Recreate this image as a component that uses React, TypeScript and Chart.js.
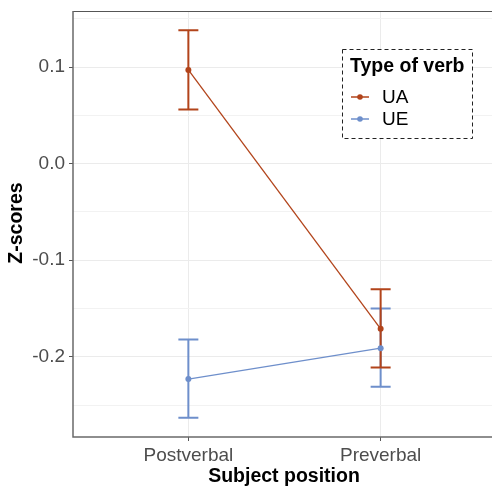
import React, { useEffect, useRef } from "react";
import { Chart, registerables } from "chart.js";

Chart.register(...registerables);

const categories = ["Postverbal", "Preverbal"];
const uaMean = [0.097, -0.171];
const uaLower = [0.056, -0.211];
const uaUpper = [0.138, -0.13];
const ueMean = [-0.223, -0.191];
const ueLower = [-0.263, -0.231];
const ueUpper = [-0.182, -0.15];
const yTickValues = [-0.25, -0.2, -0.15, -0.1, -0.05, 0, 0.05, 0.1, 0.15];
const yMajorTicks = [-0.2, -0.1, 0, 0.1];
const seriesNames = ["UA", "UE"];
const legendTitle = "Type of verb";
const xTitle = "Subject position";
const yTitle = "Z-scores";

const UA_COLOR = "#B2441B";
const UE_COLOR = "#6E8FCB";
const FONT = "'Liberation Sans', Arial, sans-serif";

const isMajor = (v: number) => yMajorTicks.some((m) => Math.abs(m - v) < 1e-6);

export default function App() {
  const ref = useRef<HTMLCanvasElement>(null);
  useEffect(() => {
    const canvas = ref.current!;
    const bars = [
      { color: UE_COLOR, lo: ueLower, hi: ueUpper },
      { color: UA_COLOR, lo: uaLower, hi: uaUpper },
    ];
    const plugin = {
      id: "extras",
      beforeDatasetsDraw(chart: any) {
        const ctx = chart.ctx;
        const xs = chart.scales.x;
        const ys = chart.scales.y;
        ctx.save();
        bars.forEach((b) => {
          ctx.strokeStyle = b.color;
          ctx.lineWidth = 2;
          b.lo.forEach((lo: number, i: number) => {
            const x = xs.getPixelForValue(i + 1);
            const y1 = ys.getPixelForValue(lo);
            const y2 = ys.getPixelForValue(b.hi[i]);
            ctx.beginPath();
            ctx.moveTo(x, y1);
            ctx.lineTo(x, y2);
            ctx.moveTo(x - 10, y1);
            ctx.lineTo(x + 10, y1);
            ctx.moveTo(x - 10, y2);
            ctx.lineTo(x + 10, y2);
            ctx.stroke();
          });
        });
        ctx.restore();
      },
      afterDraw(chart: any) {
        const ctx = chart.ctx;
        const a = chart.chartArea;
        ctx.save();
        ctx.strokeStyle = "#555555";
        ctx.lineWidth = 1;
        ctx.beginPath();
        ctx.moveTo(a.left, a.top + 0.5);
        ctx.lineTo(a.right, a.top + 0.5);
        ctx.stroke();
        ctx.strokeStyle = "#6A6A6A";
        ctx.lineWidth = 1.5;
        ctx.beginPath();
        ctx.moveTo(a.left, a.top);
        ctx.lineTo(a.left, a.bottom);
        ctx.lineTo(a.right, a.bottom);
        ctx.stroke();
        // axis titles
        ctx.fillStyle = "#000000";
        ctx.font = `bold 19.5px ${FONT}`;
        ctx.textAlign = "center";
        ctx.textBaseline = "middle";
        ctx.fillText(xTitle, 284, 477);
        ctx.save();
        ctx.translate(17, 223);
        ctx.rotate(-Math.PI / 2);
        ctx.fillText(yTitle, 0, 0);
        ctx.restore();
        // legend
        ctx.fillStyle = "#ffffff";
        ctx.fillRect(342, 49, 130, 89);
        ctx.setLineDash([4, 3]);
        ctx.strokeStyle = "#222222";
        ctx.lineWidth = 1;
        ctx.strokeRect(342.5, 49.5, 130, 89);
        ctx.setLineDash([]);
        ctx.fillStyle = "#000000";
        ctx.font = `bold 19.5px ${FONT}`;
        ctx.textAlign = "left";
        ctx.fillText(legendTitle, 350, 67);
        const cols = [UA_COLOR, UE_COLOR];
        const ys = [97, 119];
        seriesNames.forEach((n, i) => {
          ctx.strokeStyle = cols[i];
          ctx.lineWidth = 1.5;
          ctx.beginPath();
          ctx.moveTo(351, ys[i]);
          ctx.lineTo(369, ys[i]);
          ctx.stroke();
          ctx.fillStyle = cols[i];
          ctx.beginPath();
          ctx.arc(360, ys[i], 2.8, 0, Math.PI * 2);
          ctx.fill();
          ctx.fillStyle = "#000000";
          ctx.font = `19px ${FONT}`;
          ctx.fillText(n, 382, ys[i] + 1);
        });
        ctx.restore();
      },
    };
    const mk = (vals: number[]) => vals.map((v, i) => ({ x: i + 1, y: v }));
    const chart = new Chart(canvas, {
      type: "line",
      data: {
        datasets: [
          {
            label: seriesNames[0],
            data: mk(uaMean),
            borderColor: UA_COLOR,
            backgroundColor: UA_COLOR,
            borderWidth: 1.3,
            pointRadius: 3,
            pointBorderWidth: 0,
          },
          {
            label: seriesNames[1],
            data: mk(ueMean),
            borderColor: UE_COLOR,
            backgroundColor: UE_COLOR,
            borderWidth: 1.3,
            pointRadius: 3,
            pointBorderWidth: 0,
          },
        ],
      },
      options: {
        animation: false,
        responsive: false,
        layout: { padding: { top: 11, right: 2, left: 0, bottom: 0 } },
        plugins: { legend: { display: false }, tooltip: { enabled: false } },
        scales: {
          x: {
            type: "linear",
            min: 0.4,
            max: 2.6,
            afterBuildTicks: (s: any) => {
              s.ticks = categories.map((_, i) => ({ value: i + 1 }));
            },
            afterFit: (s: any) => {
              s.height = 52;
              s.paddingLeft = 0;
              s.paddingRight = 0;
            },
            ticks: {
              callback: (v: any) => categories[Math.round(Number(v)) - 1] ?? "",
              color: "#4D4D4D",
              font: { family: FONT, size: 19 },
              padding: 3,
              maxRotation: 0,
            },
            grid: { color: "#EBEBEB", lineWidth: 1, tickLength: 4, tickColor: "#555555", drawTicks: true },
            border: { display: false },
          },
          y: {
            min: -0.283,
            max: 0.158,
            afterBuildTicks: (s: any) => {
              s.ticks = yTickValues.map((v) => ({ value: v }));
            },
            afterFit: (s: any) => {
              s.width = 73;
              s.paddingTop = 0;
              s.paddingBottom = 0;
            },
            ticks: {
              callback: (v: any) => (isMajor(Number(v)) ? Number(v).toFixed(1) : ""),
              color: "#4D4D4D",
              font: { family: FONT, size: 19 },
              padding: 4,
            },
            grid: {
              color: (c: any) => (isMajor(c.tick?.value) ? "#EBEBEB" : "#F2F2F2"),
              lineWidth: 1,
              tickLength: 4,
              tickColor: (c: any) => (isMajor(c.tick?.value) ? "#555555" : "rgba(0,0,0,0)"),
            },
            border: { display: false },
          },
        },
      },
      plugins: [plugin],
    } as any);
    return () => chart.destroy();
  }, []);
  return (
    <div style={{ position: "fixed", left: 0, top: 0, width: 492, height: 489, overflow: "hidden", background: "#fff" }}>
      <canvas ref={ref} width={500} height={489} style={{ display: "block" }} />
    </div>
  );
}
